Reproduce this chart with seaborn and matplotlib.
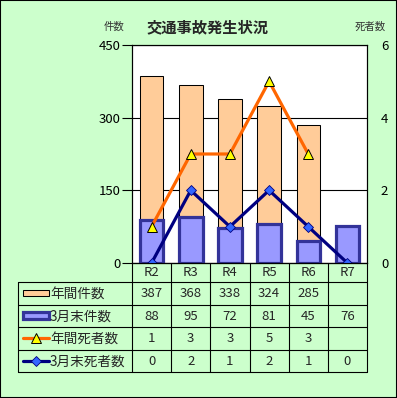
import numpy as np
import pandas as pd
import matplotlib
matplotlib.use("Agg")
import matplotlib.pyplot as plt
from matplotlib.patches import Rectangle
from matplotlib.lines import Line2D
import seaborn as sns

# ---- data ----
years = ["R2", "R3", "R4", "R5", "R6", "R7"]
annual_cases = [387, 368, 338, 324, 285, np.nan]
march_cases = [88, 95, 72, 81, 45, 76]
annual_deaths = [1, 3, 3, 5, 3, np.nan]
march_deaths = [0, 2, 1, 2, 1, 0]
series_names = ["年間件数", "3月末件数", "年間死者数", "3月末死者数"]
title = "交通事故発生状況"
left_label = "件数"
right_label = "死者数"
left_ticks = [0, 150, 300, 450]
right_ticks = [0, 2, 4, 6]

sns.set_style("white")
plt.rcParams["font.family"] = ["Noto Sans CJK JP", "DejaVu Sans"]

W, H = 397, 398
fig = plt.figure(figsize=(W / 100, H / 100), dpi=100)
BG = "#CCFFCC"
fig.patch.set_facecolor(BG)

def fx(px):
    return px / W

def fy(py):
    return 1 - py / H

L, R, T, B = 132, 367, 45, 263
ax = fig.add_axes([fx(L), fy(B), fx(R) - fx(L), fy(T) - fy(B)])
ax.set_facecolor("white")

df = pd.DataFrame({"year": years, "annual": annual_cases, "march": march_cases})
sns.barplot(data=df, x="year", y="annual", ax=ax, color="#FFCC99", width=0.6,
            edgecolor="black", linewidth=0.75, saturation=1, zorder=2)
sns.barplot(data=df, x="year", y="march", ax=ax, color="#9999FF", width=0.6,
            edgecolor="#333399", linewidth=2.3, saturation=1, zorder=3)
ax.set_ylim(0, 450)
ax.set_xlim(-0.5, len(years) - 0.5)
ax.set_yticks(left_ticks)
ax.set_yticklabels([str(t) for t in left_ticks], fontsize=9.5)
ax.set_xticks([])
ax.set_xlabel("")
ax.set_ylabel("")
ax.yaxis.grid(True, color="black", linewidth=0.8)
ax.set_axisbelow(True)
ax.tick_params(axis="y", direction="out", length=7, width=0.8, pad=1, left=True, colors="black")
for s in ax.spines.values():
    s.set_color("black")
    s.set_linewidth(0.8)

ax2 = ax.twinx()
xpos = np.arange(len(years))
ddf = pd.DataFrame({"x": xpos, "annual": annual_deaths, "march": march_deaths})
sns.lineplot(data=ddf, x="x", y="annual", ax=ax2, color="#FF6600", linewidth=2.3,
             marker="^", markersize=6.5, markerfacecolor="#FFFF00",
             markeredgecolor="black", markeredgewidth=0.7, zorder=4)
sns.lineplot(data=ddf, x="x", y="march", ax=ax2, color="#000080", linewidth=2.3,
             marker="D", markersize=5, markerfacecolor="#3366FF",
             markeredgecolor="#000080", markeredgewidth=0.6, zorder=5)
ax2.set_ylim(0, 6)
ax2.set_xlim(-0.5, len(years) - 0.5)
ax2.set_yticks(right_ticks)
ax2.set_yticklabels([str(t) for t in right_ticks], fontsize=9.5)
ax2.set_ylabel("")
ax2.set_xlabel("")
ax2.tick_params(axis="y", direction="out", length=0, pad=10, right=True, colors="black")
for s in ax2.spines.values():
    s.set_color("black")
    s.set_linewidth(0.8)

# titles
fig.text(fx(208), fy(27), title, ha="center", va="center", fontsize=11, fontweight="bold")
fig.text(fx(114), fy(27), left_label, ha="center", va="center", fontsize=7.5, color="#333333")
fig.text(fx(370), fy(27), right_label, ha="center", va="center", fontsize=7.5, color="#333333")

# ---- data table ----
TL, TB = 18, 372
tax = fig.add_axes([fx(TL), fy(TB), fx(R) - fx(TL), fy(B) - fy(TB)])
tax.set_axis_off()
colw = (R - L) / len(years)
left_w = (L - TL) / colw
tax.set_xlim(-left_w, len(years))
tax.set_ylim(TB - B, 0)
hdr = 19
rowh = (TB - B - hdr) / 4
lc = "black"
lw = 0.8
# horizontal lines
tax.plot([0, len(years)], [0, 0], color=lc, lw=lw, clip_on=False)
for k in range(5):
    yk = hdr + k * rowh
    tax.plot([-left_w, len(years)], [yk, yk], color=lc, lw=lw, clip_on=False)
# vertical lines
tax.plot([-left_w, -left_w], [hdr, TB - B], color=lc, lw=lw, clip_on=False)
for i in range(len(years) + 1):
    tax.plot([i, i], [0, TB - B], color=lc, lw=lw, clip_on=False)

# header
for i, yname in enumerate(years):
    tax.text(i + 0.5, hdr / 2 + 0.5, yname, ha="center", va="center", fontsize=9.5)

rows = [annual_cases, march_cases, annual_deaths, march_deaths]
for r, vals in enumerate(rows):
    yc = hdr + (r + 0.5) * rowh
    for i, v in enumerate(vals):
        if not (isinstance(v, float) and np.isnan(v)):
            tax.text(i + 0.5, yc + 0.5, str(int(v)), ha="center", va="center", fontsize=9.5)
    tax.text(-left_w + 32 / colw, yc + 0.5, series_names[r], ha="left", va="center", fontsize=9.8)

# legend keys
kx0 = -left_w + 5 / colw
kx1 = -left_w + 31 / colw
kxm = (kx0 + kx1) / 2
y0 = hdr + 0.5 * rowh
tax.add_patch(Rectangle((kx0, y0 - 3), kx1 - kx0, 6, facecolor="#FFCC99",
                        edgecolor="black", lw=0.75, clip_on=False))
y1 = hdr + 1.5 * rowh
tax.add_patch(Rectangle((kx0, y1 - 3.5), kx1 - kx0, 7, facecolor="#9999FF",
                        edgecolor="#333399", lw=2.3, clip_on=False))
y2 = hdr + 2.5 * rowh
tax.add_line(Line2D([kx0, kx1], [y2, y2], color="#FF6600", lw=2.3))
tax.add_line(Line2D([kxm], [y2], marker="^", markersize=6.5, markerfacecolor="#FFFF00",
                    markeredgecolor="black", markeredgewidth=0.7, linestyle="none"))
y3 = hdr + 3.5 * rowh
tax.add_line(Line2D([kx0, kx1], [y3, y3], color="#000080", lw=2.3))
tax.add_line(Line2D([kxm], [y3], marker="D", markersize=5, markerfacecolor="#3366FF",
                    markeredgecolor="#000080", markeredgewidth=0.6, linestyle="none"))

# figure border
fig.patches.append(Rectangle((0, 0), 1, 1, transform=fig.transFigure, fill=False,
                             edgecolor="black", linewidth=1.5))

fig.savefig("out.png", dpi=100, facecolor=BG)
